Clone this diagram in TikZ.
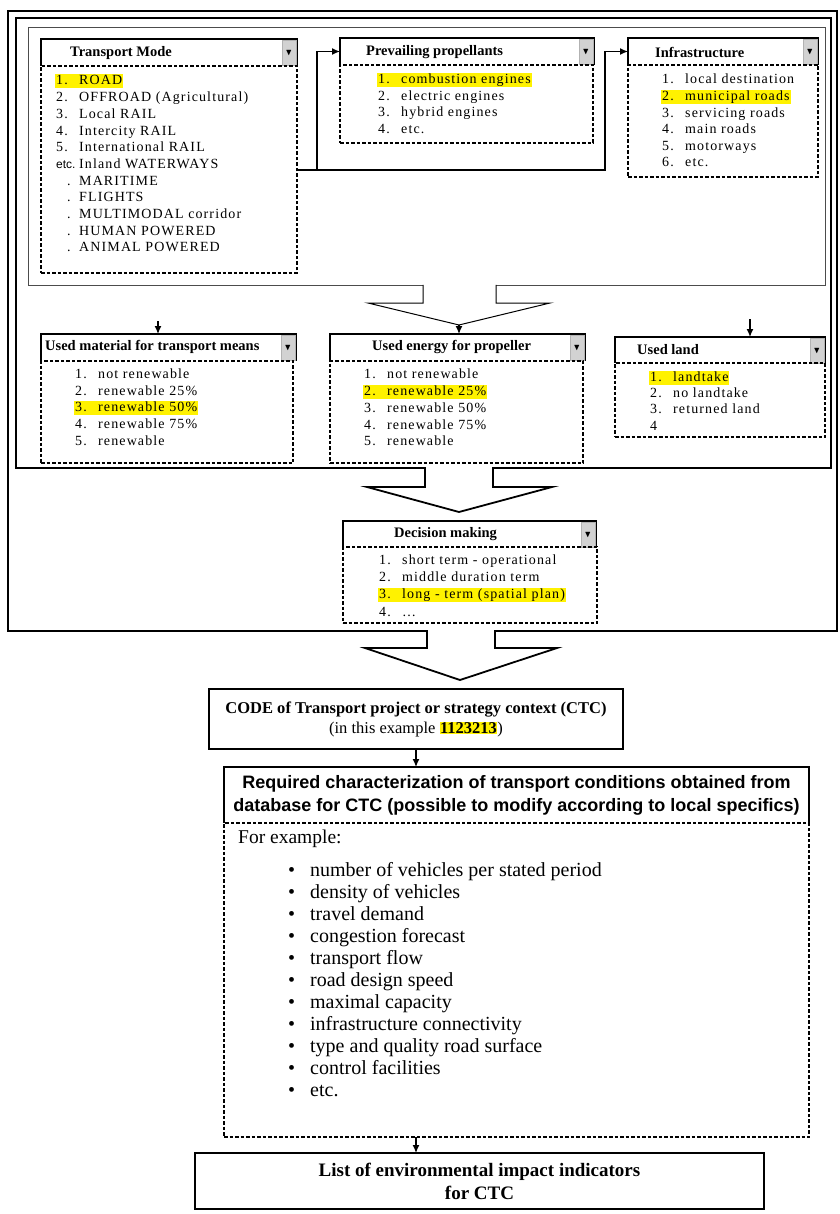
\documentclass[tikz,border=0pt]{standalone}
\usepackage{amssymb}
\usepackage{fontspec}
\setmainfont{Liberation Serif}
\setsansfont{Liberation Sans}
\newfontfamily\lstfont{Liberation Serif}[LetterSpace=8]
\usetikzlibrary{arrows.meta,positioning,calc}

\tikzset{
  hdr/.style={anchor=north west, inner sep=0pt, outer sep=0pt},
  hline/.style={line width=1.4pt},
  box/.style={anchor=north west, inner sep=0pt, outer sep=0pt, draw, line width=1.4pt},
  lst/.style={anchor=north west, inner sep=0pt, outer sep=0pt, draw, line width=1.2pt, dash pattern=on 3.5pt off 2pt},
  btn/.style={anchor=north east, inner sep=0pt, minimum width=14, minimum height=25, fill=gray!35, draw=gray!60, font=\small},
  ttl/.style={anchor=west, inner sep=0pt, font=\bfseries\fontsize{14.5}{16}\selectfont},
  itm/.style={anchor=west, inner sep=1pt, text height=9.5pt, text depth=3pt, font=\lstfont\fontsize{14}{16}\selectfont},
  hl/.style={fill=yellow},
  bul/.style={anchor=west, inner sep=0pt, text height=14pt, text depth=4pt, font=\fontsize{20}{22}\selectfont},
  arr/.style={line width=1.3pt, -{Latex[length=8pt,width=7pt]}},
  chev/.style={line width=1.8pt, fill=white, line join=miter},
}
\newcommand{\num}[1]{\makebox[23pt][l]{#1}}
\newcommand{\dd}{$\blacktriangledown$}

\begin{document}
\begin{tikzpicture}[x=1pt,y=-1pt]
    \fill[white] (0,0) rectangle (839,1214);
    \useasboundingbox (0,0) rectangle (839,1214);

    % frames
    \draw[line width=2.6pt] (8,11) rectangle (837,631);
    \draw[line width=1.5pt] (16,18) rectangle (831,468);
    \draw[line width=0.8pt, gray!60!black] (28,27) rectangle (825,285);

    % Transport Mode
    \node[hdr, minimum width=256, minimum height=27] (tmhdr) at (41,39) {};
    \draw[hline] (tmhdr.south west) |- (tmhdr.north east) -- (tmhdr.south east);
    \node[btn] (tmbtn) at ($(tmhdr.north east)+(-1,1)$) {\dd};
    \node[ttl] (tmttl) at (70,53) {Transport Mode};
    \node[lst, minimum width=256, minimum height=207] (tmlist) at (41,66) {};
    \node[itm, hl] (tm1) at (55,81) {\num{1.}ROAD};
    \node[itm] (tm2) at (55,98) {\num{2.}OFFROAD (Agricultural)};
    \node[itm] (tm3) at (55,115) {\num{3.}Local RAIL};
    \node[itm] (tm4) at (55,132) {\num{4.}Intercity RAIL};
    \node[itm] (tm5) at (55,148) {\num{5.}International RAIL};
    \node[itm] (tm6) at (55,165) {\num{\sffamily\fontsize{12}{14}\selectfont etc.}Inland WATERWAYS};
    \node[itm] (tm7) at (55,182) {\num{\hspace{11pt}.}MARITIME};
    \node[itm] (tm8) at (55,198) {\num{\hspace{11pt}.}FLIGHTS};
    \node[itm] (tm9) at (55,215) {\num{\hspace{11pt}.}MULTIMODAL corridor};
    \node[itm] (tm10) at (55,232) {\num{\hspace{11pt}.}HUMAN POWERED};
    \node[itm] (tm11) at (55,248) {\num{\hspace{11pt}.}ANIMAL POWERED};

    % Prevailing propellants
    \node[hdr, minimum width=254, minimum height=27] (pphdr) at (340,38) {};
    \draw[hline] (pphdr.south west) |- (pphdr.north east) -- (pphdr.south east);
    \node[btn] (ppbtn) at ($(pphdr.north east)+(-1,1)$) {\dd};
    \node[ttl] (ppttl) at (366,52) {Prevailing propellants};
    \node[lst, minimum width=253, minimum height=78] (pplist) at (340,65) {};
    \node[itm, hl] (pp1) at (377,80) {\num{1.}combustion engines};
    \node[itm] (pp2) at (377,97) {\num{2.}electric engines};
    \node[itm] (pp3) at (377,113) {\num{3.}hybrid engines};
    \node[itm] (pp4) at (377,130) {\num{4.}etc.};

    % Infrastructure
    \node[hdr, minimum width=190, minimum height=27] (infhdr) at (628,38) {};
    \draw[hline] (infhdr.south west) |- (infhdr.north east) -- (infhdr.south east);
    \node[btn] (infbtn) at ($(infhdr.north east)+(-1,1)$) {\dd};
    \node[ttl] (infttl) at (655,52) {Infrastructure};
    \node[lst, minimum width=190, minimum height=112] (inflist) at (628,65) {};
    \node[itm] (inf1) at (661,80) {\num{1.}local destination};
    \node[itm, hl] (inf2) at (661,97) {\num{2.}municipal roads};
    \node[itm] (inf3) at (661,114) {\num{3.}servicing roads};
    \node[itm] (inf4) at (661,130) {\num{4.}main roads};
    \node[itm] (inf5) at (661,147) {\num{5.}motorways};
    \node[itm] (inf6) at (661,163) {\num{6.}etc.};

    % connectors of the first row
    \coordinate (j1) at (317,170);
    \coordinate (j2) at (605,170);
    \draw[arr] (tmlist.east |- j1) -- (j1) |- (pphdr.west);
    \draw[arr] (j1) -- (j2) |- (infhdr.west);

    % Used material
    \node[hdr, minimum width=255, minimum height=27] (umhdr) at (41,334) {};
    \draw[hline] (umhdr.south west) |- (umhdr.north east) -- (umhdr.south east);
    \node[btn] (umbtn) at ($(umhdr.north east)+(-1,1)$) {\dd};
    \node[ttl] (umttl) at (45,347) {Used material for transport means};
    \node[lst, minimum width=252, minimum height=102] (umlist) at (41,361) {};
    \node[itm] (um1) at (74,375) {\num{1.}not renewable};
    \node[itm] (um2) at (74,392) {\num{2.}renewable 25\%};
    \node[itm, hl] (um3) at (74,408) {\num{3.}renewable 50\%};
    \node[itm] (um4) at (74,425) {\num{4.}renewable 75\%};
    \node[itm] (um5) at (74,442) {\num{5.}renewable};

    % Used energy
    \node[hdr, minimum width=255, minimum height=27] (uehdr) at (330,334) {};
    \draw[hline] (uehdr.south west) |- (uehdr.north east) -- (uehdr.south east);
    \node[btn] (uebtn) at ($(uehdr.north east)+(-1,1)$) {\dd};
    \node[ttl] (uettl) at (372,347) {Used energy for propeller};
    \node[lst, minimum width=253, minimum height=102] (uelist) at (330,361) {};
    \node[itm] (ue1) at (363,375) {\num{1.}not renewable};
    \node[itm, hl] (ue2) at (363,392) {\num{2.}renewable 25\%};
    \node[itm] (ue3) at (363,409) {\num{3.}renewable 50\%};
    \node[itm] (ue4) at (363,426) {\num{4.}renewable 75\%};
    \node[itm] (ue5) at (363,442) {\num{5.}renewable};

    % Used land
    \node[hdr, minimum width=210, minimum height=26] (ulhdr) at (615,337) {};
    \draw[hline] (ulhdr.south west) |- (ulhdr.north east) -- (ulhdr.south east);
    \node[btn] (ulbtn) at ($(ulhdr.north east)+(-1,1)$) {\dd};
    \node[ttl] (ulttl) at (637,350) {Used land};
    \node[lst, minimum width=210, minimum height=74] (ullist) at (615,363) {};
    \node[itm, hl] (ul1) at (649,378) {\num{1.}landtake};
    \node[itm] (ul2) at (649,394) {\num{2.}no landtake};
    \node[itm] (ul3) at (649,410) {\num{3.}returned land};
    \node[itm] (ul4) at (649,427) {\num{4}};

    \coordinate (umin) at (158,321);
    \coordinate (ulin) at (750,319);
    \draw[arr] (umin) -- (umin |- umhdr.north);
    \draw[arr] (ulin) -- (ulin |- ulhdr.north);

    % Decision making
    \node[hdr, minimum width=253, minimum height=26] (dmhdr) at (343,521) {};
    \draw[hline] (dmhdr.south west) |- (dmhdr.north east) -- (dmhdr.south east);
    \node[btn] (dmbtn) at ($(dmhdr.north east)+(-1,1)$) {\dd};
    \node[ttl] (dmttl) at (394,534) {Decision making};
    \node[lst, minimum width=254, minimum height=76] (dmlist) at (343,547) {};
    \node[itm] (dm1) at (378,561) {\num{1.}short term - operational};
    \node[itm] (dm2) at (378,578) {\num{2.}middle duration term};
    \node[itm, hl] (dm3) at (378,595) {\num{3.}long - term (spatial plan)};
    \node[itm] (dm4) at (378,613) {\num{4.}\ldots};

    % block arrows
    \fill[white] (424,282) rectangle (495,288);
    \draw[chev, line width=1pt] (423,285) -- (423,303) -- (368,303) -- (459,325) -- (550,303) -- (496,303) -- (496,285);
    \coordinate (tip1) at (459,325);
    \draw[arr] (tip1) -- (tip1 |- uehdr.north);
    \fill[white] (426,465) rectangle (492,471);
    \draw[chev] (425,468) -- (425,487) -- (367,487) -- (459,512) -- (552,487) -- (493,487) -- (493,468);
    \fill[white] (428,627) rectangle (494,635);
    \draw[chev] (427,631) -- (427,648) -- (365,648) -- (460,680) -- (557,648) -- (495,648) -- (495,631);

    % lower part
    \node[box, minimum width=414, minimum height=60, align=center,
          font=\bfseries\fontsize{16.5}{20}\selectfont] (ctc) at (209,689)
          {CODE of Transport project or strategy context (CTC)\\
           {\mdseries (in this example {\setlength{\fboxsep}{0.5pt}\colorbox{yellow}{\bfseries 1123213}})}};
    \node[hdr, minimum width=585, minimum height=56, align=center,
          font=\sffamily\bfseries\fontsize{18}{23}\selectfont] (req) at (224,767)
          {Required characterization of transport conditions obtained from\\
           database for CTC (possible to modify according to local specifics)};
    \draw[hline] (req.south west) |- (req.north east) -- (req.south east);
    \node[lst, minimum width=585, minimum height=314] (reqlist) at (224,823) {};
    \node[bul, font=\fontsize{19.5}{22}\selectfont] (fex) at (238,838) {For example:};
    \node[bul] (bl1) at (288,871) {\makebox[22pt][l]{\textbullet}number of vehicles per stated period};
    \node[bul] (bl2) at (288,893) {\makebox[22pt][l]{\textbullet}density of vehicles};
    \node[bul] (bl3) at (288,915) {\makebox[22pt][l]{\textbullet}travel demand};
    \node[bul] (bl4) at (288,937) {\makebox[22pt][l]{\textbullet}congestion forecast};
    \node[bul] (bl5) at (288,959) {\makebox[22pt][l]{\textbullet}transport flow};
    \node[bul] (bl6) at (288,981) {\makebox[22pt][l]{\textbullet}road design speed};
    \node[bul] (bl7) at (288,1003) {\makebox[22pt][l]{\textbullet}maximal capacity};
    \node[bul] (bl8) at (288,1025) {\makebox[22pt][l]{\textbullet}infrastructure connectivity};
    \node[bul] (bl9) at (288,1047) {\makebox[22pt][l]{\textbullet}type and quality road surface};
    \node[bul] (bl10) at (288,1069) {\makebox[22pt][l]{\textbullet}control facilities};
    \node[bul] (bl11) at (288,1091) {\makebox[22pt][l]{\textbullet}etc.};
    \node[box, minimum width=569, minimum height=56, align=center,
          font=\bfseries\fontsize{19}{23}\selectfont] (lind) at (195,1153)
          {List of environmental impact indicators\\for CTC};

    \draw[arr] (ctc.south) -- (ctc.south |- req.north);
    \draw[arr] (ctc.south |- reqlist.south) -- (ctc.south |- lind.north);
\end{tikzpicture}
\end{document}
